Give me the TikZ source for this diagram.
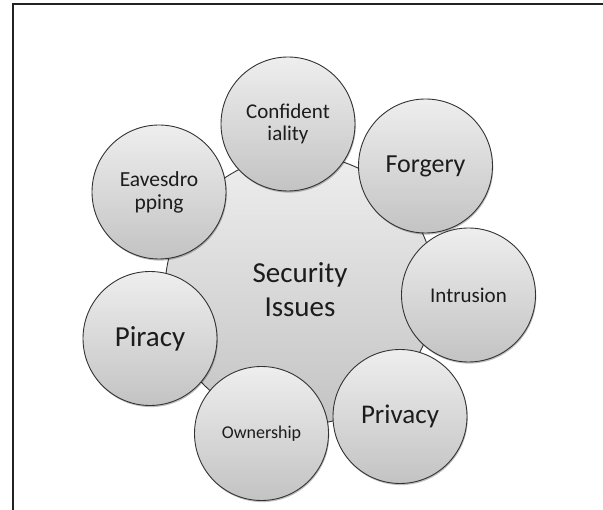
\documentclass[tikz,border=0pt]{standalone}
\usepackage{fontspec}
\setmainfont{Carlito}
\usetikzlibrary{shadows}
\definecolor{topc}{HTML}{EEEEEE}
\definecolor{botc}{HTML}{C3C3C3}
\definecolor{edgec}{HTML}{333333}
\definecolor{txtc}{HTML}{1C1C1C}
\definecolor{framec}{HTML}{222222}
\tikzset{
  bubble/.style={circle, draw=edgec, line width=0.9pt, top color=topc, bottom color=botc,
    minimum size=134pt, inner sep=0pt, align=center, text=txtc,
    drop shadow={shadow xshift=0.8pt, shadow yshift=-1.6pt, opacity=0.25, fill=black}},
  hub/.style={circle, draw=edgec, line width=0.9pt, top color=topc, bottom color=botc,
    minimum size=270pt, inner sep=0pt, align=center, text=txtc}
}
\begin{document}
\begin{tikzpicture}[x=1pt,y=-1pt]
\useasboundingbox (0,0) rectangle (603,510);
\fill[white] (0,0) rectangle (603,510);
% frame
\coordinate (fbl) at (13,512);
\coordinate (ftl) at (13,4);
\coordinate (ftr) at (606,4);
\draw[framec, line width=1.8pt] (fbl) -- (ftl) -- (ftr);
% hub
\node[hub, font=\fontsize{29}{34}\selectfont] (hub) at (300,290) {Security\\Issues};
% satellites
\node[bubble, font=\fontsize{21}{22}\selectfont] (conf) at (288,124) {Confident\\iality};
\node[bubble, font=\fontsize{26}{30}\selectfont] (forg) at (425.5,166) {Forgery};
\node[bubble, font=\fontsize{21}{24}\selectfont] (intr) at (468.5,295) {Intrusion};
\node[bubble, font=\fontsize{27}{30}\selectfont] (priv) at (400,416.5) {Privacy};
\node[bubble, font=\fontsize{18}{20}\selectfont] (own) at (261.5,433.5) {Ownership};
\node[bubble, font=\fontsize{29}{32}\selectfont] (pir) at (150,338.5) {Piracy};
\node[bubble, font=\fontsize{21.5}{23}\selectfont] (eav) at (159,192) {Eavesdro\\pping};
\end{tikzpicture}
\end{document}
